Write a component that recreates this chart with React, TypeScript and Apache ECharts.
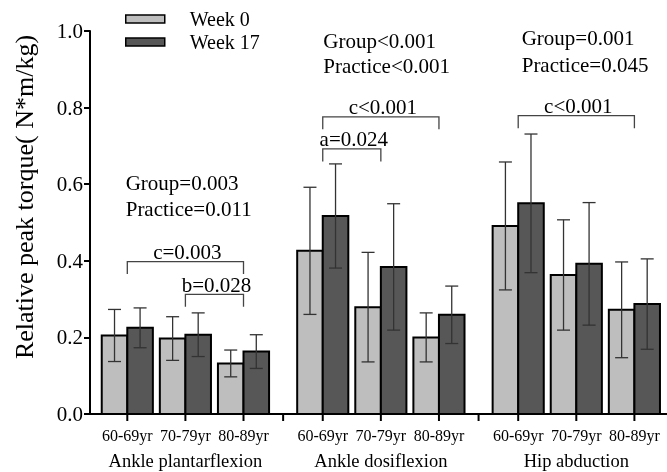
import React, { useEffect, useRef } from "react";
import * as echarts from "echarts";

// ---- data ----
const muscles = ["Ankle plantarflexion", "Ankle dosiflexion", "Hip abduction"];
const ages = ["60-69yr", "70-79yr", "80-89yr"];
const seriesNames = ["Week 0", "Week 17"];
// order: muscle-major, age-minor
const week0Mean = [0.205, 0.197, 0.132, 0.426, 0.279, 0.2, 0.491, 0.363, 0.272];
const week0Sd = [0.068, 0.057, 0.035, 0.166, 0.143, 0.064, 0.167, 0.144, 0.125];
const week17Mean = [0.225, 0.207, 0.163, 0.517, 0.384, 0.259, 0.55, 0.392, 0.287];
const week17Sd = [0.052, 0.057, 0.044, 0.136, 0.165, 0.075, 0.181, 0.16, 0.118];
const groupP = ["Group=0.003", "Group<0.001", "Group=0.001"];
const practiceP = ["Practice=0.011", "Practice<0.001", "Practice=0.045"];
const bracketGroup = [0, 0, 1, 1, 2];
const bracketFrom = [0, 1, 0, 0, 0];
const bracketTo = [2, 2, 2, 1, 2];
const bracketLevel = [0.398, 0.3125, 0.776, 0.692, 0.779];
const bracketLabels = ["c=0.003", "b=0.028", "c<0.001", "a=0.024", "c<0.001"];
const yTitle = "Relative peak torque( N*m/kg)";

// ---- layout ----
const X_OFFSET = 0.642;
const GROUP_STEP = 3.364;
const X_MAX = 9.931;
const BAR_W = 0.44;
const LIGHT = "#bebebe";
const DARK = "#575757";
const FONT = '"Liberation Serif", "Times New Roman", serif';

const center = (g: number, i: number) => X_OFFSET + g * GROUP_STEP + i;

function barSeries(name: string, means: number[], sds: number[], side: number, fill: string) {
  return {
    type: "custom",
    name,
    silent: true,
    itemStyle: { color: fill },
    encode: { x: 0, y: 1 },
    data: means.map((m, k) => [center(Math.floor(k / 3), k % 3), m, sds[k]]),
    renderItem: (_p: any, api: any) => {
      const c = api.value(0);
      const m = api.value(1);
      const sd = api.value(2);
      const top = api.coord([c, m]);
      const base = api.coord([c, 0]);
      const bw = api.size([BAR_W, 0])[0];
      const x0 = side < 0 ? top[0] - bw : top[0];
      const ex = x0 + bw / 2;
      const eTop = api.coord([c, m + sd])[1];
      const eBot = api.coord([c, m - sd])[1];
      const cap = 6.5;
      const ls = { stroke: "#333", lineWidth: 1.3 };
      return {
        type: "group",
        children: [
          {
            type: "rect",
            shape: { x: x0, y: top[1], width: bw, height: base[1] - top[1] },
            style: { fill, stroke: "#000", lineWidth: 2 },
          },
          { type: "line", shape: { x1: ex, y1: eTop, x2: ex, y2: eBot }, style: ls },
          { type: "line", shape: { x1: ex - cap, y1: eTop, x2: ex + cap, y2: eTop }, style: ls },
          { type: "line", shape: { x1: ex - cap, y1: eBot, x2: ex + cap, y2: eBot }, style: ls },
        ],
      };
    },
  };
}

export default function App() {
  const ref = useRef<HTMLDivElement>(null);
  useEffect(() => {
    if (!ref.current) return;
    const chart = echarts.init(ref.current, null, { renderer: "svg" });

    const labelData: number[][] = [];
    muscles.forEach((_m, g) => ages.forEach((_a, i) => labelData.push([center(g, i), g, i])));
    const sepData: number[][] = [];
    for (let g = 0; g < muscles.length - 1; g++) {
      sepData.push([(center(g, ages.length - 1) + center(g + 1, 0)) / 2]);
    }
    const bracketData = bracketLabels.map((_l, k) => [
      center(bracketGroup[k], bracketFrom[k]),
      center(bracketGroup[k], bracketTo[k]),
      bracketLevel[k],
      k,
    ]);

    const textPos = [
      [125.7, 183, 209],
      [323.3, 41, 66],
      [521.7, 37.5, 64.7],
    ];
    const graphic: any[] = [
      {
        type: "text",
        x: 24,
        y: 197,
        rotation: Math.PI / 2,
        style: {
          text: yTitle,
          fontSize: 26,
          fontFamily: FONT,
          fill: "#000",
          align: "center",
          verticalAlign: "middle",
        },
      },
    ];
    textPos.forEach((p, g) => {
      graphic.push({
        type: "text",
        x: p[0],
        y: p[1],
        style: { text: groupP[g], fontSize: 21, fontFamily: FONT, fill: "#000", align: "left", verticalAlign: "middle" },
      });
      graphic.push({
        type: "text",
        x: p[0],
        y: p[2],
        style: { text: practiceP[g], fontSize: 21, fontFamily: FONT, fill: "#000", align: "left", verticalAlign: "middle" },
      });
    });

    chart.setOption({
      animation: false,
      grid: { left: 90, right: 0, top: 31, bottom: 58 },
      legend: {
        orient: "vertical",
        left: 125,
        top: 9,
        padding: 0,
        itemWidth: 39,
        itemHeight: 8,
        itemGap: 3,
        selectedMode: false,
        data: [
          { name: seriesNames[0], icon: "rect", itemStyle: { color: LIGHT, borderColor: "#000", borderWidth: 1.5 } },
          { name: seriesNames[1], icon: "rect", itemStyle: { color: DARK, borderColor: "#000", borderWidth: 1.5 } },
        ],
        textStyle: { fontFamily: FONT, fontSize: 20, color: "#000", lineHeight: 20, padding: [0, 0, 0, 20] },
      },
      xAxis: {
        type: "value",
        min: 0,
        max: X_MAX,
        axisLine: { show: true, onZero: false, lineStyle: { color: "#000", width: 2 } },
        axisTick: { show: false },
        axisLabel: { show: false },
        splitLine: { show: false },
      },
      yAxis: {
        type: "value",
        min: 0,
        max: 1,
        interval: 0.2,
        axisLine: { show: true, lineStyle: { color: "#000", width: 2 } },
        axisTick: { show: true, length: 6, lineStyle: { color: "#000", width: 2 } },
        axisLabel: {
          margin: 7,
          fontFamily: FONT,
          fontSize: 21,
          color: "#000",
          formatter: (v: number) => v.toFixed(1),
        },
        splitLine: { show: false },
      },
      graphic,
      series: [
        barSeries(seriesNames[0], week0Mean, week0Sd, -1, LIGHT),
        barSeries(seriesNames[1], week17Mean, week17Sd, 1, DARK),
        {
          type: "custom",
          name: "xlabels",
          silent: true,
          clip: false,
          encode: { x: 0 },
          data: labelData,
          renderItem: (_p: any, api: any) => {
            const p = api.coord([api.value(0), 0]);
            const g = api.value(1);
            const i = api.value(2);
            const children: any[] = [
              { type: "line", shape: { x1: p[0], y1: p[1], x2: p[0], y2: p[1] + 7 }, style: { stroke: "#000", lineWidth: 2 } },
              {
                type: "text",
                x: p[0],
                y: p[1] + 21,
                style: { text: ages[i], fontSize: 16, fontFamily: FONT, fill: "#000", align: "center", verticalAlign: "middle" },
              },
            ];
            if (i === 1) {
              children.push({
                type: "text",
                x: p[0],
                y: p[1] + 47,
                style: { text: muscles[g], fontSize: 18.5, fontFamily: FONT, fill: "#000", align: "center", verticalAlign: "middle" },
              });
            }
            return { type: "group", children };
          },
        },
        {
          type: "custom",
          name: "separators",
          silent: true,
          clip: false,
          encode: { x: 0 },
          data: sepData,
          renderItem: (_p: any, api: any) => {
            const p = api.coord([api.value(0), 0]);
            return { type: "line", shape: { x1: p[0], y1: p[1], x2: p[0], y2: p[1] + 7 }, style: { stroke: "#000", lineWidth: 2 } };
          },
        },
        {
          type: "custom",
          name: "brackets",
          silent: true,
          clip: false,
          encode: { x: 0, y: 2 },
          data: bracketData,
          renderItem: (_p: any, api: any) => {
            const a = api.coord([api.value(0), api.value(2)]);
            const b = api.coord([api.value(1), api.value(2)]);
            const k = api.value(3);
            const drop = 12.5;
            return {
              type: "group",
              children: [
                {
                  type: "polyline",
                  shape: { points: [[a[0], a[1] + drop], [a[0], a[1]], [b[0], b[1]], [b[0], b[1] + drop]] },
                  style: { stroke: "#444", lineWidth: 1.3, fill: null },
                },
                {
                  type: "text",
                  x: (a[0] + b[0]) / 2 + 2,
                  y: a[1] - 9.5,
                  style: { text: bracketLabels[k], fontSize: 21, fontFamily: FONT, fill: "#000", align: "center", verticalAlign: "middle" },
                },
              ],
            };
          },
        },
      ],
    });
    return () => chart.dispose();
  }, []);
  return <div ref={ref} style={{ position: "fixed", left: 0, top: 0, width: 667, height: 472 }} />;
}
